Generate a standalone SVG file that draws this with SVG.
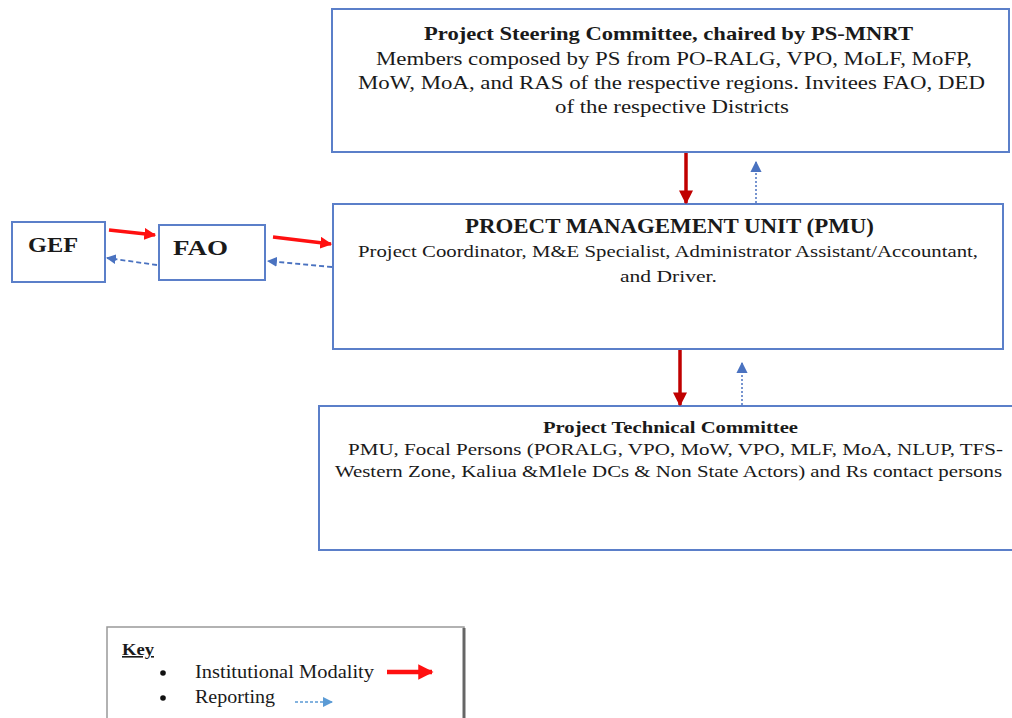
<svg xmlns="http://www.w3.org/2000/svg" width="1012" height="718" viewBox="0 0 1012 718">
<defs>
<style>
.box{fill:#fff;stroke:#5b7fc9;stroke-width:2}
.t{font-family:"Liberation Serif","Times New Roman",serif;fill:#1a1a1a;text-anchor:middle}
.k{font-family:"Liberation Serif","Times New Roman",serif;fill:#1a1a1a}
.b{font-weight:bold}
.red{stroke:#ff1010;stroke-width:3.5;fill:none}
.dred{stroke:#c00000;stroke-width:3.5;fill:none}
.blu{stroke:#4a72c0;stroke-width:1.8;fill:none;stroke-dasharray:5 3}
.blud{stroke:#4a72c0;stroke-width:1.5;fill:none;stroke-dasharray:2 2}
</style>
<marker id="mr" viewBox="0 0 10 10" refX="9" refY="5" markerWidth="3.4" markerHeight="3.4" orient="auto" markerUnits="strokeWidth"><path d="M0,0L10,5L0,10z" fill="#ff1010"/></marker>
<marker id="md" viewBox="0 0 10 10" refX="9" refY="5" markerWidth="4" markerHeight="4" orient="auto" markerUnits="strokeWidth"><path d="M0,0L10,5L0,10z" fill="#c00000"/></marker>
<marker id="mb" viewBox="0 0 10 10" refX="9" refY="5" markerWidth="5.5" markerHeight="5.5" orient="auto" markerUnits="strokeWidth"><path d="M0,0L10,5L0,10z" fill="#4a72c0"/></marker>
<marker id="mbv" viewBox="0 0 10 10" refX="9" refY="5" markerWidth="7.5" markerHeight="7.5" orient="auto" markerUnits="strokeWidth"><path d="M0,0L10,5L0,10z" fill="#4a72c0"/></marker>
<marker id="mk" viewBox="0 0 10 10" refX="9" refY="5" markerWidth="7" markerHeight="7" orient="auto" markerUnits="strokeWidth"><path d="M0,0L10,5L0,10z" fill="#5b9bd5"/></marker>
</defs>
<rect width="1012" height="718" fill="#fff"/>
<g id="steering">
<rect class="box" x="332" y="9" width="677" height="143"/>
<text class="t b" x="668.5" y="40" font-size="19" textLength="489" lengthAdjust="spacingAndGlyphs">Project Steering Committee, chaired by PS-MNRT</text>
<text class="t" x="674" y="65" font-size="19" textLength="596" lengthAdjust="spacingAndGlyphs">Members composed by PS from PO-RALG, VPO, MoLF, MoFP,</text>
<text class="t" x="671.5" y="89" font-size="19" textLength="627" lengthAdjust="spacingAndGlyphs">MoW, MoA, and RAS of the respective regions. Invitees FAO, DED</text>
<text class="t" x="672" y="113" font-size="19" textLength="234" lengthAdjust="spacingAndGlyphs">of the respective Districts</text>
</g>
<g id="pmu">
<rect class="box" x="333" y="204" width="670" height="145"/>
<text class="t" x="669.5" y="233" font-size="21" font-weight="600" textLength="409" lengthAdjust="spacingAndGlyphs">PROECT MANAGEMENT UNIT (PMU)</text>
<text class="t" x="668" y="257" font-size="17" textLength="620" lengthAdjust="spacingAndGlyphs">Project Coordinator, M&amp;E Specialist, Administrator Assistant/Accountant,</text>
<text class="t" x="668.5" y="282" font-size="17" textLength="97" lengthAdjust="spacingAndGlyphs">and Driver.</text>
</g>
<g id="ptc">
<rect class="box" x="319" y="406" width="700" height="144"/>
<text class="t b" x="670.5" y="433" font-size="17" textLength="255" lengthAdjust="spacingAndGlyphs">Project Technical Committee</text>
<text class="t" x="675.5" y="455" font-size="17" textLength="655" lengthAdjust="spacingAndGlyphs">PMU, Focal Persons (PORALG, VPO, MoW, VPO, MLF, MoA, NLUP, TFS-</text>
<text class="t" x="668.5" y="477" font-size="17" textLength="667" lengthAdjust="spacingAndGlyphs">Western Zone, Kaliua &amp;Mlele DCs &amp; Non State Actors) and Rs contact persons</text>
</g>
<g id="gef">
<rect class="box" x="12" y="222" width="93" height="60"/>
<text class="t b" x="53" y="252" font-size="22" textLength="50" lengthAdjust="spacingAndGlyphs">GEF</text>
</g>
<g id="fao">
<rect class="box" x="159" y="225" width="106" height="55"/>
<text class="t b" x="200.5" y="255" font-size="22" textLength="55" lengthAdjust="spacingAndGlyphs">FAO</text>
</g>
<g id="connectors">
<line class="red" x1="109" y1="230" x2="155" y2="235" marker-end="url(#mr)"/>
<line class="red" x1="273" y1="237" x2="331" y2="244" marker-end="url(#mr)"/>
<line class="blu" x1="332" y1="267" x2="268" y2="261" marker-end="url(#mb)"/>
<line class="blu" x1="157" y1="265" x2="107" y2="258" marker-end="url(#mb)"/>
<line class="dred" x1="686" y1="153" x2="686" y2="203" marker-end="url(#md)"/>
<line class="blud" x1="756" y1="203" x2="756" y2="162" marker-end="url(#mbv)"/>
<line class="dred" x1="680" y1="350" x2="680" y2="405" marker-end="url(#md)"/>
<line class="blud" x1="742" y1="405" x2="742" y2="363" marker-end="url(#mbv)"/>
</g>
<g id="key">
<rect x="107" y="627" width="357" height="100" fill="#fff" stroke="#999" stroke-width="1.5"/>
<line x1="464" y1="628" x2="464" y2="718" stroke="#666" stroke-width="3"/>
<text class="k b" x="122" y="655" font-size="16" text-decoration="underline" textLength="32" lengthAdjust="spacingAndGlyphs">Key</text>
<circle cx="163" cy="673" r="2.8" fill="#111"/>
<circle cx="163" cy="698" r="2.8" fill="#111"/>
<text class="k" x="195" y="678" font-size="18" textLength="179" lengthAdjust="spacingAndGlyphs">Institutional Modality</text>
<text class="k" x="195" y="703" font-size="18" textLength="80" lengthAdjust="spacingAndGlyphs">Reporting</text>
<line x1="387" y1="672" x2="432" y2="672" stroke="#ff1010" stroke-width="4.5" marker-end="url(#mr)"/>
<line x1="295" y1="702" x2="332" y2="702" stroke="#5b9bd5" stroke-width="1.5" stroke-dasharray="3 2" marker-end="url(#mk)"/>
</g>
</svg>
